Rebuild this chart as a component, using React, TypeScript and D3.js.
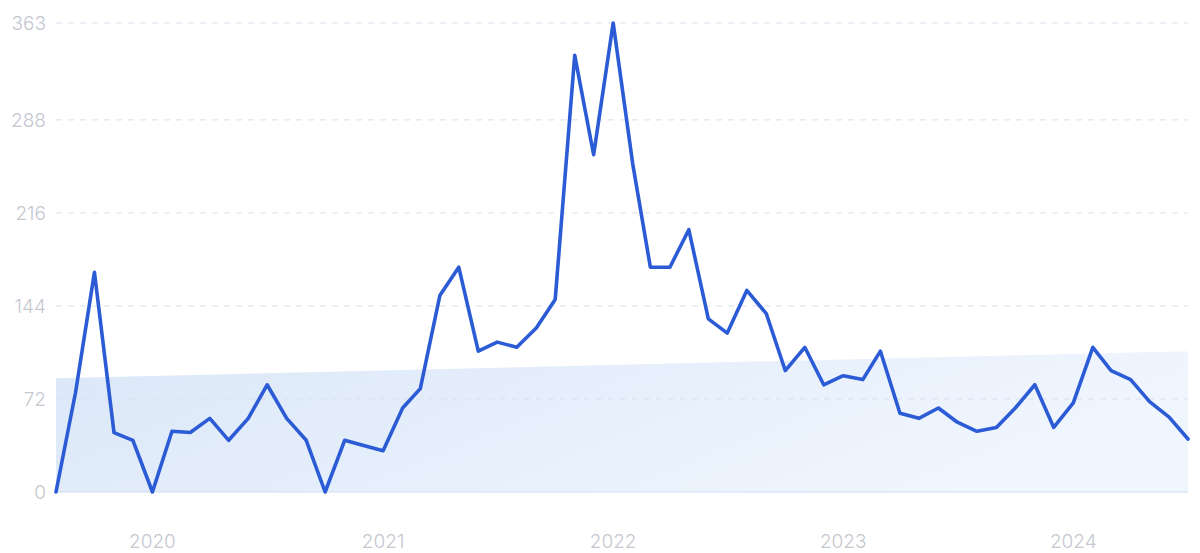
import React from "react";
import * as d3 from "d3";

const startMonth = "2019-08";
const values: number[] = [
  0, 77, 170, 46, 40, 0, 47, 46, 57, 40, 57, 83, 57, 40, 0, 40, 36, 32,
  65, 80, 152, 174, 109, 116, 112, 127, 149, 338, 261, 363, 254, 174, 174, 203, 134, 123, 156, 138, 94,
  112, 83, 90, 87, 109, 61, 57, 65, 54, 47, 50, 65, 83, 50, 69, 112, 94, 87, 70, 58, 41,
];
const yTicks: number[] = [0, 72, 144, 216, 288, 363];
const xTickYears: number[] = [2020, 2021, 2022, 2023, 2024];
const trend: number[] = [88, 109];

const W = 1200;
const H = 553;
const M = { left: 56, right: 12, top: 23, bottom: 61 };

export default function App() {
  const parse = d3.timeParse("%Y-%m");
  const t0 = parse(startMonth) as Date;
  const dates = values.map((_, i) => d3.timeMonth.offset(t0, i));
  const x = d3
    .scaleTime()
    .domain([dates[0], dates[dates.length - 1]])
    .range([M.left, W - M.right]);
  const y = d3.scaleLinear().domain([0, 363]).range([H - M.bottom, M.top]);

  const line = d3
    .line<number>()
    .x((_, i) => x(dates[i]))
    .y((d) => y(d));

  const trendPts: [Date, number][] = [
    [dates[0], trend[0]],
    [dates[dates.length - 1], trend[1]],
  ];
  const area = d3
    .area<[Date, number]>()
    .x((d) => x(d[0]))
    .y0(y(0))
    .y1((d) => y(d[1]));

  const font = "Inter, 'Open Sans', sans-serif";
  const x0 = M.left;
  const x1 = W - M.right;

  return (
    <svg
      width={W}
      height={H}
      style={{ position: "absolute", left: 0, top: 0, display: "block", background: "#fff" }}
    >
      <defs>
        <linearGradient id="fillGrad" x1="0" y1="0" x2="1" y2="0.3">
          <stop offset="0%" stopColor="#dbe7f8" />
          <stop offset="100%" stopColor="#f0f6fe" />
        </linearGradient>
      </defs>
      <path d={area(trendPts) || ""} fill="url(#fillGrad)" />
      {yTicks.map((t) => (
        <g key={t}>
          {t !== 0 && (
            <line
              x1={x0}
              x2={x1}
              y1={y(t)}
              y2={y(t)}
              stroke="#d9e1ef"
              strokeWidth={1}
              strokeDasharray="6 6"
            />
          )}
          <text
            x={46}
            y={y(t)}
            dy="0.35em"
            textAnchor="end"
            fontFamily={font}
            fontSize={19}
            fontWeight={300}
            fill="#c5c8cf"
          >
            {t}
          </text>
        </g>
      ))}
      <line x1={x0} x2={x1} y1={y(0)} y2={y(0)} stroke="#cfdcf3" strokeWidth={1} />
      {xTickYears.map((yr) => (
        <text
          key={yr}
          x={x(new Date(yr, 0, 1))}
          y={548}
          textAnchor="middle"
          fontFamily={font}
          fontSize={19}
          fontWeight={300}
          fill="#c5c8cf"
        >
          {yr}
        </text>
      ))}
      <path
        d={line(values) || ""}
        fill="none"
        stroke="#2c5bd6"
        strokeWidth={3.6}
        strokeLinejoin="round"
        strokeLinecap="round"
      />
    </svg>
  );
}
